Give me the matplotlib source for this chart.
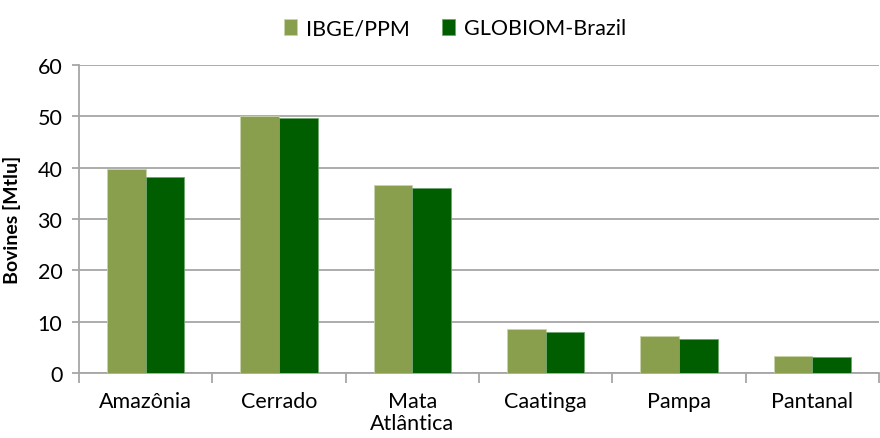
import matplotlib.pyplot as plt
import numpy as np

plt.rcParams['font.family'] = ['Lato', 'DejaVu Sans']

biomes = ["Amazônia", "Cerrado", "Mata\nAtlântica", "Caatinga", "Pampa", "Pantanal"]
ibge = [39.7, 50.1, 36.6, 8.6, 7.2, 3.35]
globiom = [38.2, 49.7, 36.1, 7.9, 6.6, 3.1]

c_ibge = "#8a9f4d"
c_glob = "#005e00"
grid_c = "#a6a6a6"

fig = plt.figure(figsize=(8.8, 4.39), dpi=100)
ax = fig.add_axes([0.0898, 0.148, 0.909, 0.702])

x = np.arange(len(biomes))
w = 0.29
ax.bar(x - w/2, ibge, w, color=c_ibge, edgecolor="#c9d3ad", linewidth=0.6, label="IBGE/PPM", zorder=3)
ax.bar(x + w/2, globiom, w, color=c_glob, edgecolor="#6fa56f", linewidth=0.6, label="GLOBIOM-Brazil", zorder=3)

ax.set_xlim(-0.5, len(biomes) - 0.5)
ax.set_ylim(0, 60)
ax.set_yticks(range(0, 61, 10))
ax.yaxis.grid(True, color=grid_c, linewidth=1.3, zorder=0)

for s in ["top", "right"]:
    ax.spines[s].set_visible(False)
for s in ["left", "bottom"]:
    ax.spines[s].set_color(grid_c)
    ax.spines[s].set_linewidth(1.3)

# category labels centered, ticks at category boundaries
ax.set_xticks(x)
ax.set_xticklabels(biomes, fontsize=15.5, va="top", linespacing=1.15)
ax.tick_params(axis="x", length=0, pad=13)
ax.set_xticks(np.arange(-0.5, len(biomes) - 0.4, 1), minor=True)
ax.tick_params(axis="x", which="minor", length=7, color=grid_c, width=1.3)
ax.tick_params(axis="y", labelsize=15.5, length=5, color=grid_c, width=1.3, pad=7)

ax.set_ylabel("Bovines [Mtlu]", fontsize=14, fontweight="bold", labelpad=12)

fig.legend(loc="upper center", bbox_to_anchor=(0.517, 1.0), ncol=2, frameon=False,
           fontsize=15.5, handlelength=0.6, handleheight=0.8, columnspacing=1.5, handletextpad=0.4)

plt.savefig("out.png", dpi=100)
